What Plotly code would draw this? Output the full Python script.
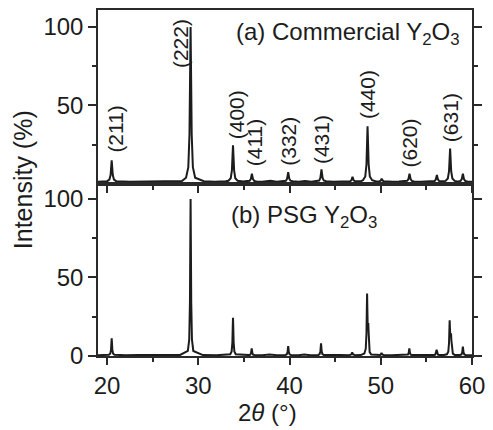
import plotly.graph_objects as go
from plotly.subplots import make_subplots

# ---------------- data ----------------
# (a) Commercial Y2O3 pattern: 2theta (deg) and intensity (%)
comm_x = [19.0, 19.6, 20.0, 20.25, 20.38, 20.45, 20.5, 20.55, 20.62, 20.75, 21.0,
          22.5, 24.0, 25.5, 27.0, 28.2,
          28.65, 28.9, 29.03, 29.1, 29.15, 29.2, 29.27, 29.4, 29.65,
          30.6, 31.8, 33.0,
          33.3, 33.55, 33.68, 33.75, 33.8, 33.85, 33.92, 34.05, 34.3,
          34.9,
          35.37, 35.62, 35.75, 35.82, 35.87, 35.92, 35.99, 36.12, 36.37,
          37.0, 37.9, 38.6,
          39.35, 39.6, 39.73, 39.8, 39.85, 39.9, 39.97, 40.1, 40.35,
          41.0, 41.7, 42.4,
          43.0, 43.25, 43.38, 43.45, 43.5, 43.55, 43.62, 43.75, 44.0,
          44.8, 45.6,
          46.4, 46.65, 46.78, 46.85, 46.9, 46.95, 47.02, 47.15, 47.4,
          47.8,
          48.05, 48.3, 48.43, 48.5, 48.55, 48.6, 48.67, 48.8, 49.05,
          49.5,
          49.6, 49.85, 49.98, 50.05, 50.1, 50.15, 50.22, 50.35, 50.6,
          51.3, 52.0,
          52.65, 52.9, 53.03, 53.1, 53.15, 53.2, 53.27, 53.4, 53.65,
          54.4, 55.0,
          55.65, 55.9, 56.03, 56.1, 56.15, 56.2, 56.27, 56.4, 56.65,
          56.9,
          57.1, 57.35, 57.48, 57.55, 57.6, 57.65, 57.72, 57.85, 58.1,
          58.3,
          58.5, 58.75, 58.88, 58.95, 59.0, 59.05, 59.12, 59.25, 59.5,
          60.0]
comm_y = [1.5, 1.6, 1.8, 2.8, 5.7, 11.2, 15.0, 11.2, 5.7, 2.8, 1.8,
          1.5, 1.6, 1.4, 1.6, 1.9,
          4.0, 10.7, 32.0, 72.4, 100.0, 72.4, 32.0, 10.7, 4.0,
          1.8, 1.5, 1.8,
          2.1, 3.7, 8.7, 18.2, 24.7, 18.2, 8.7, 3.7, 2.1,
          1.6,
          1.6, 2.0, 3.1, 5.1, 6.5, 5.1, 3.1, 2.0, 1.6,
          1.5, 2.0, 1.5,
          1.7, 2.1, 3.4, 5.8, 7.6, 5.8, 3.4, 2.1, 1.7,
          1.5, 1.9, 1.5,
          1.7, 2.2, 3.9, 7.1, 9.3, 7.1, 3.9, 2.2, 1.7,
          1.5, 1.7,
          1.6, 1.8, 2.4, 3.7, 4.6, 3.7, 2.4, 1.8, 1.6,
          1.7,
          2.4, 4.8, 12.4, 26.7, 36.7, 26.7, 12.4, 4.8, 2.4,
          1.6,
          1.55, 1.7, 2.1, 2.9, 3.4, 2.9, 2.1, 1.7, 1.55,
          1.5, 1.6,
          1.6, 2.0, 3.1, 5.1, 6.5, 5.1, 3.1, 2.0, 1.6,
          1.5, 1.7,
          1.6, 1.9, 2.8, 4.5, 5.7, 4.5, 2.8, 1.9, 1.6,
          1.7,
          2.0, 3.5, 8.0, 16.6, 22.6, 16.6, 8.0, 3.5, 2.0,
          1.7,
          1.6, 2.0, 3.1, 5.1, 6.5, 5.1, 3.1, 2.0, 1.6,
          1.5]

# (b) PSG Y2O3 pattern
psg_x = [19.0, 19.8, 20.2, 20.35, 20.43, 20.47, 20.5, 20.53, 20.57, 20.65, 20.8,
         22.0, 23.5, 25.0, 26.5, 28.0,
         28.85, 29.0, 29.08, 29.12, 29.15, 29.18, 29.22, 29.3, 29.45,
         30.5, 32.0,
         33.5, 33.65, 33.73, 33.77, 33.8, 33.83, 33.87, 33.95, 34.1,
         35.0,
         35.55, 35.7, 35.78, 35.82, 35.85, 35.88, 35.92, 36.0, 36.15,
         37.0, 37.8, 38.6,
         39.55, 39.7, 39.78, 39.82, 39.85, 39.88, 39.92, 40.0, 40.15,
         41.0, 41.6, 42.3,
         43.15, 43.3, 43.38, 43.42, 43.45, 43.48, 43.52, 43.6, 43.75,
         44.6, 45.5,
         46.57, 46.72, 46.8, 46.84, 46.87, 46.9, 46.94, 47.02, 47.17,
         47.8,
         48.2, 48.35, 48.43, 48.47, 48.5, 48.53, 48.57, 48.6, 48.63, 48.66, 48.7, 48.78, 48.95,
         49.5,
         49.78, 49.93, 50.01, 50.05, 50.08, 50.11, 50.15, 50.23, 50.38,
         51.2, 52.2,
         52.83, 52.98, 53.06, 53.1, 53.13, 53.16, 53.2, 53.28, 53.43,
         54.2, 55.0,
         55.82, 55.97, 56.05, 56.09, 56.12, 56.15, 56.19, 56.27, 56.42,
         56.9,
         57.25, 57.4, 57.48, 57.52, 57.55, 57.58, 57.62, 57.66, 57.7, 57.74, 57.8, 57.9, 58.1,
         58.4,
         58.7, 58.85, 58.93, 58.97, 59.0, 59.03, 59.07, 59.15, 59.3,
         60.0]
psg_y = [0.5, 0.6, 0.8, 1.6, 4.1, 8.4, 11.2, 8.4, 4.1, 1.6, 0.8,
         0.5, 0.7, 0.5, 0.6, 0.7,
         3.2, 10.4, 34.3, 74.1, 100.0, 74.1, 34.3, 10.4, 3.2,
         0.6, 0.5,
         1.1, 2.9, 8.6, 18.1, 24.3, 18.1, 8.6, 2.9, 1.1,
         0.5,
         0.6, 0.9, 2.0, 3.8, 4.9, 3.8, 2.0, 0.9, 0.6,
         0.5, 1.0, 0.5,
         0.66, 1.1, 2.5, 4.8, 6.3, 4.8, 2.5, 1.1, 0.66,
         0.5, 0.9, 0.5,
         0.7, 1.25, 3.05, 6.05, 8.0, 6.05, 3.05, 1.25, 0.7,
         0.5, 0.6,
         0.55, 0.7, 1.1, 1.8, 2.3, 1.8, 1.1, 0.7, 0.55,
         0.6,
         1.6, 4.5, 14.0, 29.5, 39.7, 30.0, 18.0, 19.5, 21.0, 16.0, 8.0, 2.5, 0.9,
         0.5,
         0.54, 0.65, 1.0, 1.6, 2.0, 1.6, 1.0, 0.65, 0.54,
         0.5, 0.6,
         0.6, 0.9, 2.0, 3.8, 4.9, 3.8, 2.0, 0.9, 0.6,
         0.5, 0.6,
         0.6, 0.85, 1.7, 3.1, 4.0, 3.1, 1.7, 0.85, 0.6,
         0.6,
         1.1, 2.7, 8.1, 17.0, 22.8, 18.0, 12.0, 13.5, 14.5, 10.0, 4.5, 1.5, 0.7,
         0.6,
         0.65, 1.0, 2.3, 4.5, 5.9, 4.5, 2.3, 1.0, 0.65,
         0.5]

# Miller-index labels of the commercial pattern
hkl_labels = ["(211)", "(222)", "(400)", "(411)", "(332)", "(431)", "(440)", "(620)", "(631)"]
hkl_label_x = [20.97, 27.98, 34.18, 36.17, 39.95, 43.5, 48.63, 53.2, 57.63]
hkl_label_y = [19.0, 72.8, 27.2, 10.1, 10.1, 11.4, 39.9, 9.5, 25.3]

x_ticks = [20, 30, 40, 50, 60]
x_minor = [25, 35, 45, 55]
y_ticks_top = [50, 100]
y_ticks_bot = [0, 50, 100]
y_minor = [25, 75]

# ---------------- figure ----------------
FONT = "Liberation Sans, Arial, Helvetica, sans-serif"
INK = "#1c1c1c"
AX = "#2a2a2a"

fig = make_subplots(rows=2, cols=1, shared_xaxes=False, vertical_spacing=0.0,
                    row_heights=[175, 173])

fig.add_trace(go.Scatter(x=comm_x, y=comm_y, mode="lines",
                         line=dict(color=INK, width=2), showlegend=False), row=1, col=1)
fig.add_trace(go.Scatter(x=psg_x, y=psg_y, mode="lines",
                         line=dict(color=INK, width=2), showlegend=False), row=2, col=1)

W, H = 493, 430
ml, mr, mt, mb = 98, 15, 8, 74
ph = H - mt - mb
split = 173 / ph

axis_common = dict(showline=True, linecolor=AX, linewidth=1.5, ticks="outside",
                   tickcolor=AX, tickwidth=1.5, showgrid=False, zeroline=False,
                   tickfont=dict(family=FONT, size=24, color=INK))

fig.update_layout(
    width=W, height=H, margin=dict(l=ml, r=mr, t=mt, b=mb),
    paper_bgcolor="white", plot_bgcolor="white",
    xaxis=dict(**axis_common, domain=[0, 1], range=[19, 60], mirror=True,
               tickmode="array", tickvals=x_ticks, ticklen=7, showticklabels=False,
               minor=dict(tickmode="array", tickvals=x_minor, ticklen=4, ticks="outside",
                          tickcolor=AX, tickwidth=1.5), anchor="y"),
    yaxis=dict(**axis_common, domain=[split, 1], range=[0, 110.76], mirror="ticks",
               tickmode="array", tickvals=y_ticks_top, ticklen=8,
               minor=dict(tickmode="array", tickvals=y_minor, ticklen=4, ticks="outside",
                          tickcolor=AX, tickwidth=1.5), anchor="x"),
    xaxis2=dict(**axis_common, domain=[0, 1], range=[19, 60], mirror=True,
                tickmode="array", tickvals=x_ticks, ticklen=7,
                minor=dict(tickmode="array", tickvals=x_minor, ticklen=4, ticks="outside",
                           tickcolor=AX, tickwidth=1.5), anchor="y2"),
    yaxis2=dict(**axis_common, domain=[0, split], range=[0, 109.5], mirror="ticks",
                tickmode="array", tickvals=y_ticks_bot, ticklen=8,
                minor=dict(tickmode="array", tickvals=y_minor, ticklen=4, ticks="outside",
                           tickcolor=AX, tickwidth=1.5), anchor="x2"),
)

annotations = []
for lab, lx, ly in zip(hkl_labels, hkl_label_x, hkl_label_y):
    annotations.append(dict(x=lx, y=ly, xref="x", yref="y", text=lab, textangle=-90,
                            showarrow=False, xanchor="center", yanchor="bottom",
                            font=dict(family=FONT, size=21, color=INK)))

annotations.append(dict(x=46.4, y=96.0, xref="x", yref="y",
                        text="(a) Commercial Y<sub>2</sub>O<sub>3</sub>", showarrow=False,
                        xanchor="center", yanchor="middle",
                        font=dict(family=FONT, size=24, color=INK)))
annotations.append(dict(x=41.6, y=88.8, xref="x2", yref="y2",
                        text="(b) PSG Y<sub>2</sub>O<sub>3</sub>", showarrow=False,
                        xanchor="center", yanchor="middle",
                        font=dict(family=FONT, size=24, color=INK)))
annotations.append(dict(x=(22 - ml) / (W - ml - mr), y=(H - mb - 179) / ph,
                        xref="paper", yref="paper", text="Intensity (%)", textangle=-90,
                        showarrow=False, xanchor="center", yanchor="middle",
                        font=dict(family=FONT, size=25, color=INK)))
annotations.append(dict(x=(270 - ml) / (W - ml - mr), y=(H - mb - 413) / ph,
                        xref="paper", yref="paper", text="2<i>θ</i> (°)",
                        showarrow=False, xanchor="center", yanchor="middle",
                        font=dict(family=FONT, size=24, color=INK)))
fig.update_layout(annotations=annotations)

fig.write_html("out.html")
